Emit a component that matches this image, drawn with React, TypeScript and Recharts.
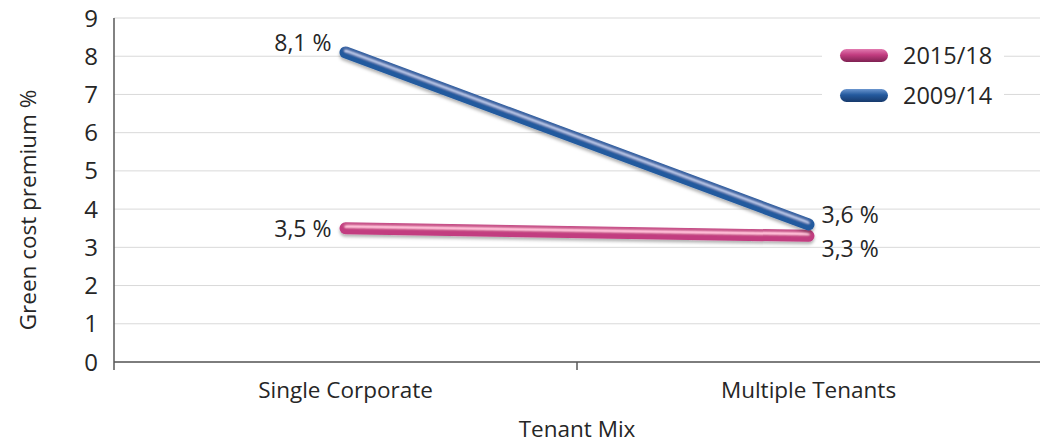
import React from 'react';
import { CartesianGrid, Label, LabelList, Line, LineChart, XAxis, YAxis } from 'recharts';

const tenantMix = ['Single Corporate', 'Multiple Tenants'];
const premium2015 = [3.5, 3.3];
const premium2009 = [8.1, 3.6];
const yTicks = [0, 1, 2, 3, 4, 5, 6, 7, 8, 9];

const series = [
  { key: 'p2015', name: '2015/18', color: '#c23c80', light: '#e27ab0', dark: '#7e2152' },
  { key: 'p2009', name: '2009/14', color: '#245a9e', light: '#6b96cf', dark: '#173a6c' },
];

const data = tenantMix.map((name, i) => ({
  name,
  p2015: premium2015[i],
  p2009: premium2009[i],
}));

const W = 1045;
const H = 443;
const LEFT = 114;
const RIGHT = 5;
const BAND = (W - LEFT - RIGHT) / tenantMix.length;
const FONT = '"Open Sans", sans-serif';
const TEXT = '#262626';

const fmt = (v: number) => `${v.toFixed(1).replace('.', ',')} %`;

// labels for the first point sit left of it, for the last point right of it
const makeLabel = (above: boolean) => (props: any) => {
  const { x, y, value, index } = props;
  const first = index === 0;
  const lx = first ? x - 14 : x + 13;
  let ly = y;
  if (first && above) ly = y - 10;
  if (!first) ly = above ? y - 10 : y + 12;
  return (
    <text
      x={lx}
      y={ly}
      textAnchor={first ? 'end' : 'start'}
      dominantBaseline="central"
      fontSize={23}
      fontFamily={FONT}
      fill={TEXT}
    >
      {fmt(value)}
    </text>
  );
};

const XTick = (props: any) => {
  const { x, y, payload } = props;
  const edge = x - BAND / 2;
  return (
    <g>
      <line x1={edge} y1={y} x2={edge} y2={y + 8} stroke="#595959" strokeWidth={1.5} />
      <text
        x={x}
        y={y + 27}
        textAnchor="middle"
        dominantBaseline="central"
        fontSize={22.5}
        fontFamily={FONT}
        fill={TEXT}
      >
        {payload.value}
      </text>
    </g>
  );
};

const LegendBox = () => (
  <div
    style={{
      position: 'absolute',
      left: 822,
      top: 35,
      width: 182,
      background: '#fff',
      padding: '0 0 0 18px',
      boxSizing: 'border-box',
      fontFamily: FONT,
    }}
  >
    {series.map((s) => (
      <div key={s.key} style={{ display: 'flex', alignItems: 'center', height: 40 }}>
        <div
          style={{
            width: 48,
            height: 13,
            borderRadius: 7,
            background: `linear-gradient(to bottom, ${s.light} 0%, ${s.color} 45%, ${s.dark} 100%)`,
            marginRight: 15,
          }}
        />
        <span style={{ fontSize: 23.5, color: TEXT }}>{s.name}</span>
      </div>
    ))}
  </div>
);

export default function App() {
  return (
    <div style={{ position: 'relative', width: W, height: H, background: '#fff' }}>
      <style>{'body{margin:0}'}</style>
      <LineChart
        width={W}
        height={H}
        data={data}
        margin={{ top: 18, right: RIGHT, bottom: 0, left: 0 }}
      >
        <defs>
          <filter id="tube" filterUnits="userSpaceOnUse" x="0" y="0" width={W} height={H}>
            <feGaussianBlur in="SourceAlpha" stdDeviation="2.5" result="blur" />
            <feSpecularLighting
              in="blur"
              surfaceScale="4"
              specularConstant="0.45"
              specularExponent="18"
              lightingColor="#ffffff"
              result="spec"
            >
              <feDistantLight azimuth="270" elevation="50" />
            </feSpecularLighting>
            <feComposite in="spec" in2="SourceAlpha" operator="in" result="specIn" />
            <feComposite in="SourceGraphic" in2="specIn" operator="arithmetic" k1="0" k2="1" k3="1" k4="0" result="lit" />
            <feDropShadow dx="0" dy="2.5" stdDeviation="1.5" floodColor="#000" floodOpacity="0.3" />
          </filter>
        </defs>
        <CartesianGrid vertical={false} stroke="#d9d9d9" strokeWidth={1} />
        <XAxis
          dataKey="name"
          scale="band"
          height={81}
          axisLine={{ stroke: '#595959', strokeWidth: 1.5 }}
          tickLine={false}
          tickSize={0}
          tickMargin={0}
          tick={<XTick />}
        >
          <Label
            value="Tenant Mix"
            content={() => (
              <text x={577} y={428} textAnchor="middle" dominantBaseline="central" fontSize={22.5} fontFamily={FONT} fill={TEXT}>
                Tenant Mix
              </text>
            )}
          />
        </XAxis>
        <YAxis
          width={LEFT}
          domain={[0, 9]}
          ticks={yTicks}
          interval={0}
          axisLine={{ stroke: '#595959', strokeWidth: 1.5 }}
          tickLine={false}
          tickMargin={10}
          tick={{ fontSize: 24, fontFamily: FONT, fill: TEXT }}
        >
          <Label
            value="Green cost premium %"
            content={() => (
              <text
                x={27}
                y={210}
                transform="rotate(-90 27 210)"
                textAnchor="middle"
                dominantBaseline="central"
                fontSize={22.5}
                fontFamily={FONT}
                fill={TEXT}
              >
                Green cost premium %
              </text>
            )}
          />
        </YAxis>
        <Line
          dataKey="p2015"
          name="2015/18"
          stroke={series[0].color}
          strokeWidth={12}
          strokeLinecap="round"
          filter="url(#tube)"
          dot={false}
          activeDot={false}
          isAnimationActive={false}
        >
          <LabelList dataKey="p2015" content={makeLabel(false)} />
        </Line>
        <Line
          dataKey="p2009"
          name="2009/14"
          stroke={series[1].color}
          strokeWidth={12}
          strokeLinecap="round"
          filter="url(#tube)"
          dot={false}
          activeDot={false}
          isAnimationActive={false}
        >
          <LabelList dataKey="p2009" content={makeLabel(true)} />
        </Line>
      </LineChart>
      <LegendBox />
    </div>
  );
}
